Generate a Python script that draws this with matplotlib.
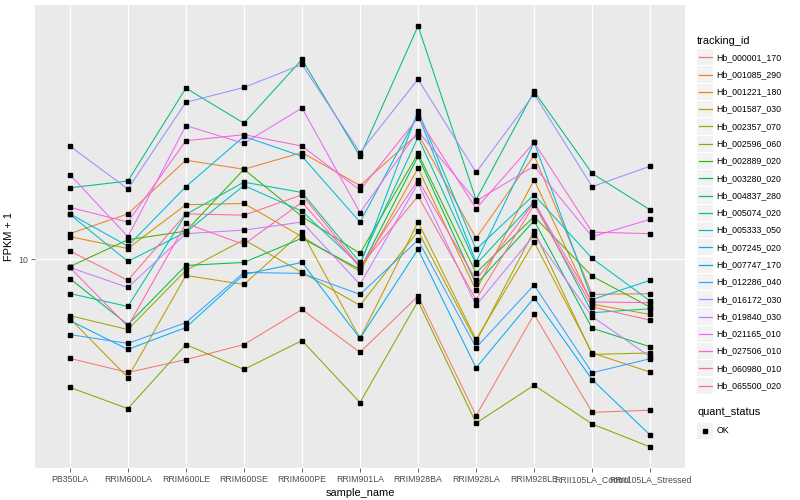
import numpy as np
import matplotlib
matplotlib.use("Agg")
import matplotlib.pyplot as plt
from matplotlib.patches import Rectangle
from matplotlib.lines import Line2D
from matplotlib.ticker import NullLocator

plt.rcParams['font.family'] = ['Liberation Sans', 'DejaVu Sans']

# sample names on the x axis
samples = ["PB350LA", "RRIM600LA", "RRIM600LE", "RRIM600SE", "RRIM600PE", "RRIM901LA",
           "RRIM928BA", "RRIM928LA", "RRIM928LE", "RRII105LA_Control", "RRII105LA_Stressed"]

tracking_ids = ["Hb_000001_170", "Hb_001085_290", "Hb_001221_180", "Hb_001587_030",
                "Hb_002357_070", "Hb_002596_060", "Hb_002889_020", "Hb_003280_020",
                "Hb_004837_280", "Hb_005074_020", "Hb_005333_050", "Hb_007245_020",
                "Hb_007747_170", "Hb_012286_040", "Hb_016172_030", "Hb_019840_030",
                "Hb_021165_010", "Hb_027506_010", "Hb_060980_010", "Hb_065500_020"]

# FPKM + 1, one list per gene, in sample order
hb_000001_170 = [5.66, 5.22, 5.62, 6.13, 7.50, 5.86, 8.10, 4.07, 7.29, 4.15, 4.20]
hb_001085_290 = [11.6, 13.0, 17.7, 16.8, 18.5, 15.3, 20.6, 11.3, 18.2, 8.18, 8.21]
hb_001221_180 = [11.4, 10.65, 13.7, 13.8, 11.4, 9.33, 16.9, 8.37, 15.8, 7.73, 7.29]
hb_001587_030 = [7.12, 5.07, 9.12, 8.66, 11.7, 6.35, 12.4, 6.31, 11.05, 5.84, 5.23]
hb_002357_070 = [7.24, 6.68, 9.39, 11.2, 9.28, 7.68, 11.77, 6.23, 11.8, 5.79, 5.84]
hb_002596_060 = [4.79, 4.24, 6.13, 5.31, 6.27, 4.39, 7.87, 3.90, 4.85, 3.88, 3.40]
hb_002889_020 = [9.60, 11.2, 11.77, 16.8, 12.8, 10.35, 18.4, 9.26, 12.8, 9.08, 7.60]
hb_003280_020 = [8.96, 6.87, 9.66, 9.83, 11.3, 9.44, 18.1, 8.66, 12.5, 6.73, 6.05]
hb_004837_280 = [15.1, 15.7, 26.8, 21.9, 31.6, 18.1, 38.3, 14.1, 26.3, 16.4, 13.3]
hb_005074_020 = [8.22, 7.63, 12.96, 15.6, 14.7, 9.83, 20.2, 9.72, 13.95, 7.36, 7.53]
hb_005333_050 = [12.96, 9.89, 11.7, 15.3, 13.2, 9.66, 23.5, 10.6, 14.5, 10.06, 7.87]
hb_007245_020 = [13.0, 10.8, 15.2, 20.3, 18.1, 12.4, 23.0, 9.85, 19.6, 7.94, 8.87]
hb_007747_170 = [7.04, 5.96, 6.76, 9.17, 9.83, 6.35, 10.6, 5.36, 8.02, 5.01, 3.64]
hb_012286_040 = [6.49, 6.17, 6.95, 9.28, 9.23, 8.18, 11.18, 6.02, 8.63, 5.21, 5.65]
hb_016172_030 = [19.2, 15.0, 24.7, 26.9, 30.7, 18.5, 28.2, 16.5, 25.9, 15.2, 17.1]
hb_019840_030 = [9.55, 8.51, 11.6, 11.84, 12.4, 8.66, 15.5, 7.68, 11.5, 7.20, 5.71]
hb_021165_010 = [16.3, 11.4, 21.6, 19.5, 23.9, 13.1, 20.9, 14.0, 17.1, 11.4, 12.6]
hb_027506_010 = [13.5, 12.4, 19.8, 20.5, 19.2, 14.9, 22.6, 13.4, 19.6, 11.7, 11.6]
hb_060980_010 = [9.55, 6.80, 12.3, 10.9, 13.9, 9.55, 15.8, 8.88, 13.9, 7.83, 7.80]
hb_065500_020 = [10.5, 8.87, 13.0, 12.9, 14.5, 9.60, 14.4, 7.94, 13.7, 7.61, 7.05]

series = [hb_000001_170, hb_001085_290, hb_001221_180, hb_001587_030, hb_002357_070,
          hb_002596_060, hb_002889_020, hb_003280_020, hb_004837_280, hb_005074_020,
          hb_005333_050, hb_007245_020, hb_007747_170, hb_012286_040, hb_016172_030,
          hb_019840_030, hb_021165_010, hb_027506_010, hb_060980_010, hb_065500_020]

# ggplot hue palette, 20 levels
colors = ["#F8766D", "#EA8331", "#D89000", "#C09B00", "#A3A500", "#7CAE00", "#39B600",
          "#00BB4E", "#00BF7D", "#00C1A3", "#00BFC4", "#00BAE0", "#00B0F6", "#35A2FF",
          "#9590FF", "#C77CFF", "#E76BF3", "#FA62DB", "#FF62BC", "#FF6C91"]

W, H = 800, 500
fig = plt.figure(figsize=(8, 5), dpi=100)
ax = fig.add_axes([35 / W, 1 - 468 / H, 650 / W, 463 / H])
ax.set_facecolor("#EAEAEA")
for s in ax.spines.values():
    s.set_visible(False)

x = np.arange(len(samples))
for vals, col in zip(series, colors):
    ax.plot(x, vals, color=col, lw=0.75, zorder=2)
for vals in series:
    ax.plot(x, vals, 's', color='black', ms=2.3, zorder=3)

ax.set_yscale('log')
allv = np.concatenate([np.asarray(v) for v in series])
lo, hi = np.log10(allv.min()), np.log10(allv.max())
pad = 0.05 * (hi - lo)
ax.set_ylim(10 ** (lo - pad), 10 ** (hi + pad))
ax.set_xlim(-0.6, len(samples) - 0.4)
ax.set_yticks([10])
ax.set_yticklabels(["10"])
ax.yaxis.set_minor_locator(NullLocator())
ax.set_xticks(x)
ax.set_xticklabels(samples)
ax.tick_params(axis='both', length=3, width=0.6, color='#4D4D4D', labelcolor='#4D4D4D',
               labelsize=6.3, pad=2)
ax.grid(True, color='white', lw=0.9)
ax.set_axisbelow(True)
ax.set_xlabel("sample_name", fontsize=7.9, labelpad=3)
ax.set_ylabel("FPKM + 1", fontsize=7.9, labelpad=3)


def fx(px):
    return px / W


def fy(py):
    return 1 - py / H


# legend: tracking_id
fig.text(fx(697), fy(40.7), "tracking_id", fontsize=7.9, va='center', ha='left')
for i, (name, col) in enumerate(zip(tracking_ids, colors)):
    yc = 57.3 + 17.28 * i
    fig.patches.append(Rectangle((fx(697), fy(yc + 8.1)), 16 / W, 16.2 / H,
                                 transform=fig.transFigure, facecolor="#F2F2F2",
                                 edgecolor='none'))
    fig.lines.append(Line2D([fx(698.5), fx(711.5)], [fy(yc), fy(yc)],
                            transform=fig.transFigure, color=col, lw=0.9))
    fig.text(fx(716.7), fy(yc), name, fontsize=6.3, va='center', ha='left')

# legend: quant_status
fig.text(fx(697), fy(412), "quant_status", fontsize=7.9, va='center', ha='left')
yc = 430.7
fig.patches.append(Rectangle((fx(697), fy(yc + 8.1)), 16 / W, 16.2 / H,
                             transform=fig.transFigure, facecolor="#F2F2F2",
                             edgecolor='none'))
fig.lines.append(Line2D([fx(705)], [fy(yc)], transform=fig.transFigure, marker='s',
                        color='black', ms=2.3, lw=0))
fig.text(fx(716.7), fy(yc), "OK", fontsize=6.3, va='center', ha='left')

fig.savefig("out.png", dpi=100)
